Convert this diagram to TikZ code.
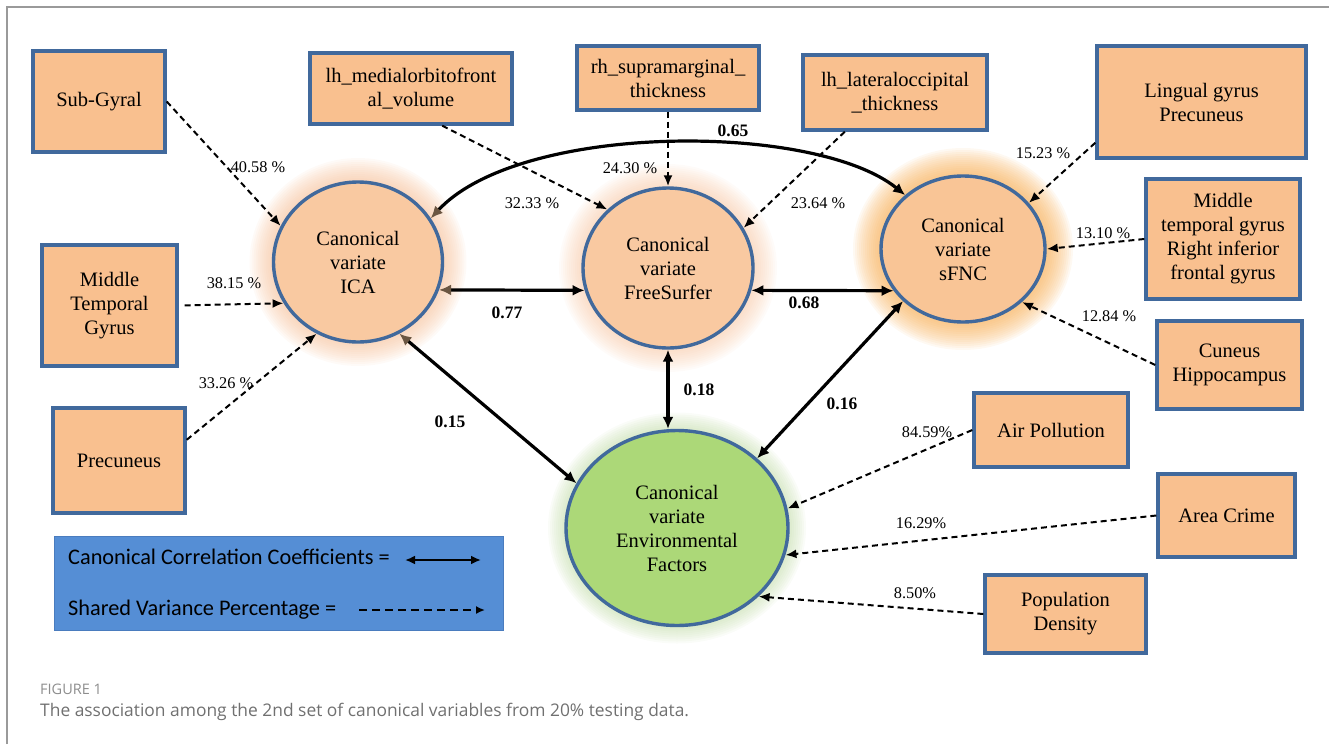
\documentclass[tikz,border=0pt]{standalone}
\usepackage{fontspec}
\setmainfont{Liberation Serif}
\newfontfamily\legendfont{Carlito}
\newfontfamily\capfont{Open Sans}
\usetikzlibrary{arrows.meta,shapes.geometric,backgrounds}
\definecolor{boxfill}{HTML}{F9C08F}
\definecolor{cvfill}{HTML}{F9C9A1}
\definecolor{sfncfill}{HTML}{F9C596}
\definecolor{envfill}{HTML}{ACD878}
\definecolor{edgeblue}{HTML}{41699C}
\definecolor{legfill}{HTML}{558ED5}
\definecolor{legedge}{HTML}{4A7CBE}
\definecolor{tipbrown}{HTML}{6B5642}
\definecolor{framegray}{HTML}{9A9A9A}
\definecolor{capgray}{HTML}{707070}
\definecolor{peachglow}{HTML}{F5B88C}
\definecolor{orangeglow}{HTML}{F7AE55}
\definecolor{greenglow}{HTML}{B5D495}
\begin{document}
\begin{tikzpicture}[x=1pt,y=-1pt,
    varbox/.style={draw=edgeblue,line width=3.4pt,fill=boxfill,align=center,inner sep=2pt,font=\fontsize{20.5}{24}\selectfont},
    cvar/.style={ellipse,draw=edgeblue,line width=3.4pt,align=center,inner sep=0pt,font=\fontsize{20.5}{24}\selectfont},
    pct/.style={font=\fontsize{16.3}{18}\selectfont,inner sep=1pt},
    coef/.style={font=\bfseries\fontsize{17.5}{20}\selectfont,inner sep=1pt},
    share/.style={dash pattern=on 6pt off 4pt,line width=2pt,-{Latex[length=11pt,width=9pt]}},
    corr/.style={line width=3.2pt,{Latex[length=12pt,width=11pt]}-{Latex[length=12pt,width=11pt]}},
    corrb/.style={line width=3.2pt,{Latex[length=12pt,width=11pt,color=tipbrown]}-{Latex[length=12pt,width=11pt]}},
    ]
    \useasboundingbox (0,0) rectangle (1329,744);
    \draw [framegray,line width=1.5pt] (7,744) -- (7,7) -- (1329,7);

    \node (ica) at (358,262) [cvar,fill=cvfill,minimum width=169pt,minimum height=160pt] {Canonical\\variate\\ICA};
    \node (fs) at (668,268) [cvar,fill=cvfill,minimum width=170pt,minimum height=160pt] {Canonical\\variate\\FreeSurfer};
    \node (sfnc) at (963,249) [cvar,fill=sfncfill,minimum width=164pt,minimum height=146pt] {Canonical\\variate\\sFNC};
    \node (env) at (677,528) [cvar,fill=envfill,minimum width=222pt,minimum height=195pt] {Canonical\\variate\\Environmental\\Factors};

    \begin{scope}[on background layer]
    \foreach \g in {1,...,12}
        \fill [peachglow,opacity=0.065] (ica.center) ellipse ({84.5pt+2pt*\g} and {80pt+2pt*\g});
    \foreach \g in {1,...,12}
        \fill [peachglow,opacity=0.05] (fs.center) ellipse ({85pt+2pt*\g} and {80pt+2pt*\g});
    \foreach \g in {1,...,14}
        \fill [orangeglow,opacity=0.08] (sfnc.center) ellipse ({82pt+2pt*\g} and {73pt+2pt*\g});
    \foreach \g in {1,...,9}
        \fill [greenglow,opacity=0.07] (env.center) ellipse ({111pt+2pt*\g} and {97.5pt+2pt*\g});
    \end{scope}

    \node (subgyral) at (99,101.5) [varbox,minimum width=132pt,minimum height=101pt] {Sub-Gyral};
    \node (mtgl) at (109.5,305.5) [varbox,minimum width=135pt,minimum height=121pt] {Middle\\Temporal\\Gyrus};
    \node (precl) at (119,460.5) [varbox,minimum width=132pt,minimum height=105pt] {Precuneus};
    \node (lhmed) at (411,88.5) [varbox,minimum width=202pt,minimum height=71pt] {lh\_medialorbitofront\\al\_volume};
    \node (rhsup) at (668,78) [varbox,minimum width=182pt,minimum height=64pt] {rh\_supramarginal\_\\thickness};
    \node (lhlat) at (895,92.5) [varbox,minimum width=184pt,minimum height=75pt] {lh\_lateraloccipital\\\_thickness};
    \node (lingual) at (1201.5,102) [varbox,minimum width=209pt,minimum height=112pt] {Lingual gyrus\\Precuneus};
    \node (mtgr) at (1223,239) [varbox,minimum width=154pt,minimum height=120pt] {Middle\\temporal gyrus\\Right inferior\\frontal gyrus};
    \node (cuneus) at (1229.5,365) [varbox,minimum width=145pt,minimum height=88pt] {Cuneus\\Hippocampus};
    \node (air) at (1051,430) [varbox,minimum width=154pt,minimum height=74pt] {Air Pollution};
    \node (crime) at (1226.5,515.5) [varbox,minimum width=137pt,minimum height=83pt] {Area Crime};
    \node (popd) at (1065.5,614) [varbox,minimum width=161pt,minimum height=78pt] {Population\\Density};

    \draw [share] (subgyral.east) -- (ica.155);
    \node (lsub) at (258,167) [pct] {40.58 \%};
    \draw [share,shorten <=6pt] (mtgl.east) -- (ica.209);
    \node (lmtgl) at (234,283) [pct] {38.15 \%};
    \draw [share] (precl.17) -- (ica.240);
    \node (lprec) at (226,383) [pct] {33.26 \%};
    \draw [share] (lhmed.310) -- (fs.136);
    \node (lmed) at (532,203) [pct] {32.33 \%};
    \draw [share] (rhsup.south) -- (fs.north);
    \node (lsup) at (630,168) [pct] {24.30 \%};
    \draw [share] (lhlat.218) -- (fs.28);
    \node (llat) at (818,203) [pct] {23.64 \%};
    \draw [share] (lingual.201) -- (sfnc.35);
    \node (lling) at (1043,153) [pct] {15.23 \%};
    \draw [share] (mtgr.west) -- (sfnc.east);
    \node (lmtgr) at (1103,233) [pct] {13.10 \%};
    \draw [share] (cuneus.west) -- (sfnc.318);
    \node (lcun) at (1109,316) [pct] {12.84 \%};
    \draw [share] (air.west) -- (env.10);
    \node (lair) at (927,432) [pct] {84.59\%};
    \draw [share] (crime.west) -- (env.346);
    \node (lcrime) at (921,523) [pct] {16.29\%};
    \draw [share] (popd.west) -- (env.320);
    \node (lpop) at (915,593) [pct] {8.50\%};

    \draw [corrb] (ica.31) .. controls (520,122) and (815,122) .. (sfnc.137);
    \node (c065) at (733,131) [coef] {0.65};
    \draw [corrb] (ica.341) -- (fs.195);
    \node (c077) at (507,313) [coef] {0.77};
    \draw [corr] (fs.345) -- (sfnc.211);
    \node (c068) at (804,303) [coef] {0.68};
    \draw [corr] (fs.south) -- (fs.south |- env.north);
    \node (c018) at (699,390) [coef] {0.18};
    \draw [corr] (sfnc.221) -- (env.41);
    \node (c016) at (842,404) [coef] {0.16};
    \draw [corrb] (ica.300) -- (env.156);
    \node (c015) at (450,422) [coef] {0.15};

    \node (legend) at (278.5,583) [draw=legedge,line width=1pt,fill=legfill,minimum width=449pt,minimum height=94pt] {};
    \node (legcorr) at (68,557) [anchor=west,inner sep=0pt,font=\legendfont\fontsize{22.3}{24}\selectfont] {Canonical Correlation Coefficients =};
    \coordinate (corra) at (405,560);
    \coordinate (corrz) at (481,560);
    \draw [line width=2.6pt,{Latex[length=10pt,width=9pt]}-{Latex[length=10pt,width=9pt]}] (corra) -- (corrz);
    \node (legshare) at (68,610) [anchor=west,inner sep=0pt,font=\legendfont\fontsize{22.3}{24}\selectfont] {Shared Variance Percentage =};
    \coordinate (sharea) at (359,610);
    \coordinate (sharez) at (485,610);
    \draw [dash pattern=on 8pt off 5pt,line width=1.7pt,-{Latex[length=9pt,width=8pt]}] (sharea) -- (sharez);

    \node (figno) at (40,689) [anchor=west,inner sep=0pt,text=capgray!80,font=\capfont\fontsize{14.5}{16}\selectfont] {FIGURE 1};
    \node (figcap) at (40,712) [anchor=west,inner sep=0pt,text=capgray,font=\capfont\fontsize{17.4}{20}\selectfont] {The association among the 2nd set of canonical variables from 20\% testing data.};
\end{tikzpicture}
\end{document}
